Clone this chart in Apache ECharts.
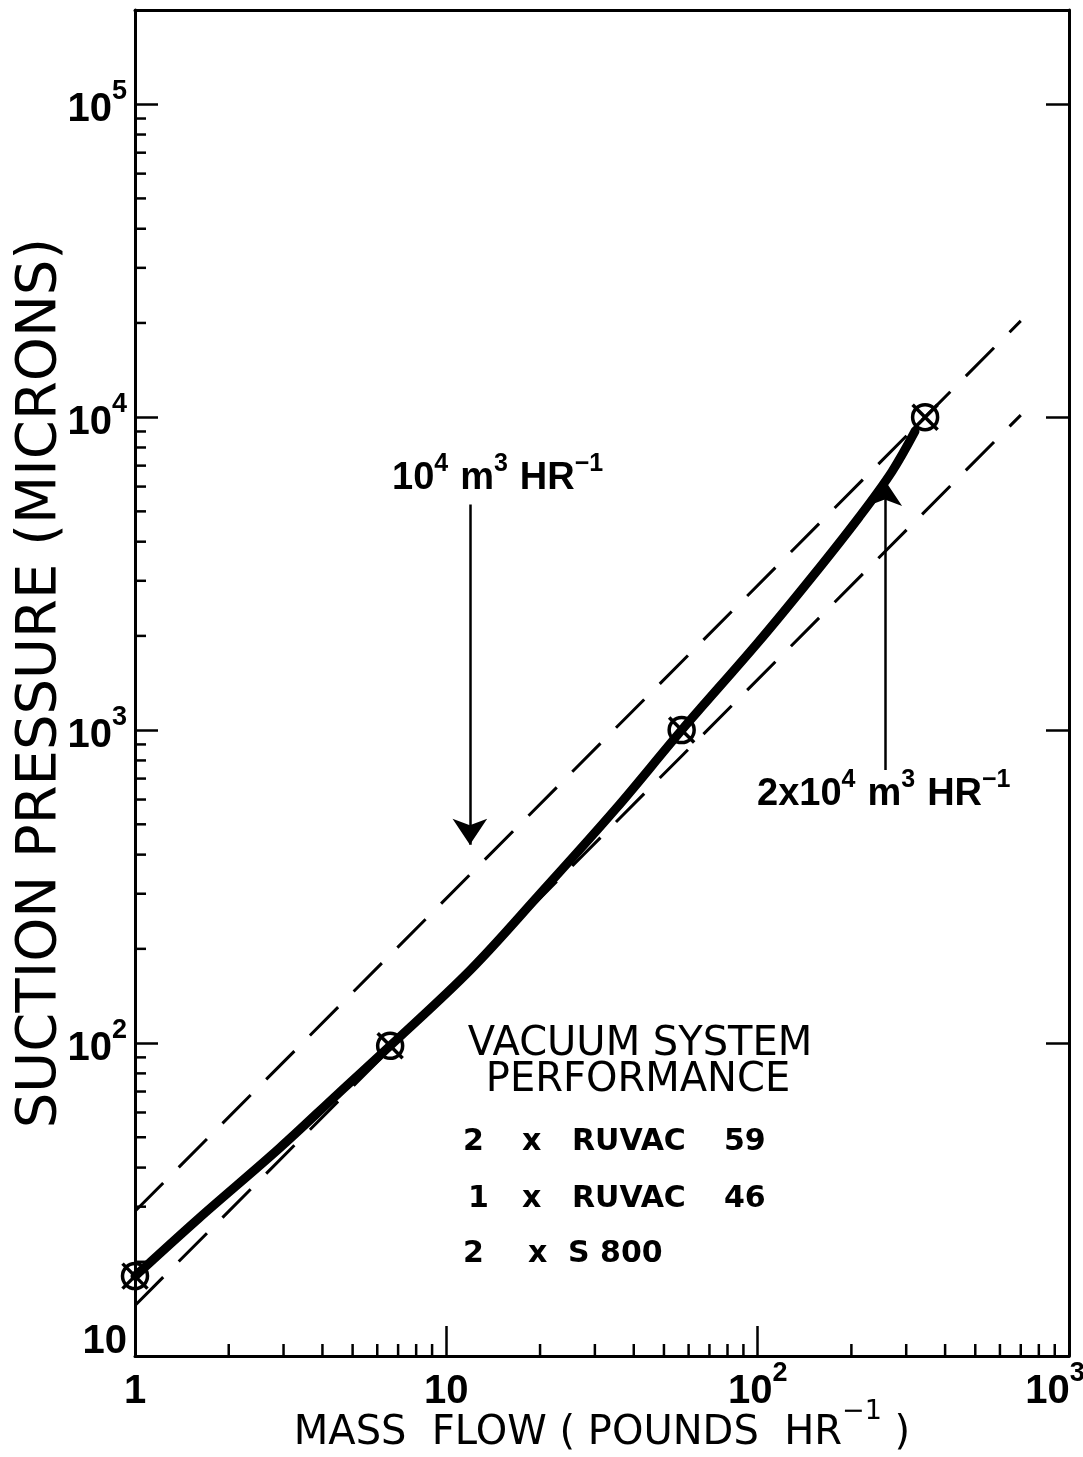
<!DOCTYPE html>
<html>
<head>
<meta charset="utf-8">
<script src="https://cdn.jsdelivr.net/npm/echarts@6/dist/echarts.min.js"></script>
<style>
html,body{margin:0;padding:0;background:#fff;}
#c{width:1083px;height:1457px;}
</style>
</head>
<body>
<div id="c"></div>
<script>
// ---- data ----
const curveX = [1, 1.6, 2.9, 4.5, 6.6, 12, 20, 35, 57, 100, 150, 212, 270, 320];
const curveY = [18, 27.5, 46, 69, 98, 172, 300, 560, 1000, 1900, 3100, 4800, 6700, 9000];
const pointX = [1, 6.6, 57, 345];
const pointY = [18, 98, 1000, 10000];
const line1X = [1, 700];          // 10^4 m^3 HR^-1
const line1Y = [29, 20300];
const line2X = [1, 700];          // 2x10^4 m^3 HR^-1
const line2Y = [14.5, 10150];
const arrow1 = [[11.9, 5260], [11.9, 430]];
const arrow2 = [[256, 745], [256, 6300]];
const minorMult = [2, 3, 4, 5, 6, 7, 8, 9];
const yDecades = [10, 100, 1000, 10000];
const xDecades = [1, 10, 100];
const xMin = 1, xMax = 1000, yMin = 10, yMax = 200000;

const zip = (a, b) => a.map((v, i) => [v, b[i]]);
const minorData = [];
yDecades.forEach(d => minorMult.forEach(m => minorData.push([xMin, d * m, 0])));
xDecades.forEach(d => minorMult.forEach(m => minorData.push([d * m, yMin, 1])));

const numFont = "'Liberation Sans Narrow', 'Liberation Sans', sans-serif";
const richLab = {
  b: {fontFamily: numFont, fontWeight: 'bold', fontSize: 40, lineHeight: 52, verticalAlign: 'bottom', color: '#000'},
  z: {fontFamily: numFont, fontWeight: 'bold', fontSize: 40, lineHeight: 52, verticalAlign: 'bottom', color: '#000', padding: [0, 0, 20, 0]},
  s: {fontFamily: numFont, fontWeight: 'bold', fontSize: 27, lineHeight: 20, verticalAlign: 'top', color: '#000'},
  e: {fontFamily: numFont, fontWeight: 'bold', fontSize: 27, lineHeight: 20, verticalAlign: 'top', color: '#000', padding: [0, 28, 0, 0]}
};
function decade(v) {
  const l = Math.log10(v);
  const e = Math.round(l);
  return Math.abs(l - e) > 0.01 ? null : e;
}
function xLabel(v) {
  const e = decade(v);
  if (e === null) return '';
  if (e === 0) return '{b|1}';
  if (e === 1) return '{b|10}';
  if (e === 3) return '{b|10}{e|3}';
  return '{b|10}{s|' + e + '}';
}
function yLabel(v) {
  const e = decade(v);
  if (e === null) return '';
  if (e === 1) return '{z|10}';
  return '{b|10}{s|' + e + '}';
}

const chart = echarts.init(document.getElementById('c'));
const axisLine = {show: true, lineStyle: {color: '#000', width: 3}};
const option = {
  backgroundColor: '#fff',
  animation: false,
  grid: {left: 135, right: 14, top: 10, bottom: 101, containLabel: false, outerBoundsMode: 'none'},
  xAxis: [{
    type: 'log', min: xMin, max: xMax, position: 'bottom',
    axisLine: axisLine,
    axisTick: {show: true, inside: true, length: 30, lineStyle: {color: '#000', width: 2.5}},
    axisLabel: {margin: 4, formatter: xLabel, rich: richLab},
    splitLine: {show: false}, minorTick: {show: false},
    name: '{b|MASS  FLOW ( POUNDS  HR}{s|−1}{b| )}', nameLocation: 'middle', nameGap: 42,
    nameMoveOverlap: false,
    nameTextStyle: {fontFamily: 'DejaVu Sans', fontSize: 40, color: '#000',
      rich: {
        b: {fontFamily: 'DejaVu Sans', fontSize: 40, lineHeight: 56, verticalAlign: 'bottom', color: '#000'},
        s: {fontFamily: 'DejaVu Sans', fontSize: 27, lineHeight: 18, verticalAlign: 'top', color: '#000'}
      }}
  }, {
    type: 'log', min: xMin, max: xMax, position: 'top',
    axisLine: axisLine, axisTick: {show: false}, axisLabel: {show: false}, splitLine: {show: false}
  }],
  yAxis: [{
    type: 'log', min: yMin, max: yMax, position: 'left',
    axisLine: axisLine,
    axisTick: {show: true, inside: true, length: 23, lineStyle: {color: '#000', width: 2.5}},
    axisLabel: {margin: 8, formatter: yLabel, rich: richLab},
    splitLine: {show: false},
    name: 'SUCTION PRESSURE (MICRONS)', nameLocation: 'middle', nameGap: 67, nameRotate: 90,
    nameMoveOverlap: false,
    nameTextStyle: {fontFamily: 'DejaVu Sans', fontSize: 56, color: '#000'}
  }, {
    type: 'log', min: yMin, max: yMax, position: 'right',
    axisLine: axisLine,
    axisTick: {show: true, inside: true, length: 23, lineStyle: {color: '#000', width: 2.5}},
    axisLabel: {show: false}, splitLine: {show: false}
  }],
  series: [
    {
      type: 'custom', xAxisIndex: 0, yAxisIndex: 0, silent: true, clip: false,
      data: minorData,
      renderItem: function (params, api) {
        const p = api.coord([api.value(0), api.value(1)]);
        const side = api.value(2);
        const q = side === 0 ? [p[0] + 11, p[1]] : [p[0], p[1] - 12];
        return {type: 'line', shape: {x1: p[0], y1: p[1], x2: q[0], y2: q[1]},
          style: {stroke: '#000', lineWidth: 2.5}};
      }
    },
    {
      name: '10^4 m3/hr', type: 'line', data: zip(line1X, line1Y), symbol: 'none',
      lineStyle: {color: '#000', width: 3, type: [40, 22]}
    },
    {
      name: '2x10^4 m3/hr', type: 'line', data: zip(line2X, line2Y), symbol: 'none',
      lineStyle: {color: '#000', width: 3, type: [40, 22]}
    },
    {
      name: 'performance', type: 'line', data: zip(curveX, curveY), symbol: 'none', smooth: 0.35,
      lineStyle: {color: '#000', width: 9, cap: 'round'}
    },
    {
      name: 'points', type: 'scatter', data: zip(pointX, pointY),
      symbol: 'path://M12 4 A8 8 0 1 1 11.99 4 Z M4 4 L20 20 M20 4 L4 20',
      symbolSize: 25,
      itemStyle: {color: 'none', borderColor: '#000', borderWidth: 3.5, opacity: 1}
    },
    {
      type: 'lines', coordinateSystem: 'cartesian2d', xAxisIndex: 0, yAxisIndex: 0,
      symbol: ['none', 'arrow'], symbolSize: [14, 26],
      lineStyle: {color: '#000', width: 2.5, opacity: 1},
      data: [{coords: arrow1}, {coords: arrow2}]
    }
  ],
  graphic: [
    {type: 'text', left: 392, top: 452, silent: true, style: {
      text: '{b|10}{s|4}{g| }{b|m}{s|3}{g| }{b|HR}{s|−1}',
      rich: {
        b: {fontFamily: numFont, fontWeight: 'bold', fontSize: 38, lineHeight: 46, verticalAlign: 'bottom', fill: '#000'},
        s: {fontFamily: numFont, fontWeight: 'bold', fontSize: 25, lineHeight: 18, verticalAlign: 'top', fill: '#000'},
        g: {fontSize: 38, width: 12}
      }}},
    {type: 'text', left: 757, top: 768, silent: true, style: {
      text: '{b|2x10}{s|4}{g| }{b|m}{s|3}{g| }{b|HR}{s|−1}',
      rich: {
        b: {fontFamily: numFont, fontWeight: 'bold', fontSize: 38, lineHeight: 46, verticalAlign: 'bottom', fill: '#000'},
        s: {fontFamily: numFont, fontWeight: 'bold', fontSize: 25, lineHeight: 18, verticalAlign: 'top', fill: '#000'},
        g: {fontSize: 38, width: 12}
      }}},
    {type: 'text', x: 640, y: 1045, silent: true, style: {text: 'VACUUM SYSTEM', align: 'center', verticalAlign: 'middle',
      fontFamily: 'DejaVu Sans', fontSize: 40, fill: '#000'}},
    {type: 'text', x: 638, y: 1081, silent: true, style: {text: 'PERFORMANCE', align: 'center', verticalAlign: 'middle',
      fontFamily: 'DejaVu Sans', fontSize: 40, fill: '#000'}},
    {type: 'text', x: 463, y: 1142, silent: true, style: {text: '2', verticalAlign: 'middle', fontFamily: 'DejaVu Sans', fontWeight: 'bold', fontSize: 30, fill: '#000'}},
    {type: 'text', x: 522, y: 1142, silent: true, style: {text: 'x', verticalAlign: 'middle', fontFamily: 'DejaVu Sans', fontWeight: 'bold', fontSize: 30, fill: '#000'}},
    {type: 'text', x: 572, y: 1142, silent: true, style: {text: 'RUVAC', verticalAlign: 'middle', fontFamily: 'DejaVu Sans', fontWeight: 'bold', fontSize: 30, fill: '#000'}},
    {type: 'text', x: 724, y: 1142, silent: true, style: {text: '59', verticalAlign: 'middle', fontFamily: 'DejaVu Sans', fontWeight: 'bold', fontSize: 30, fill: '#000'}},
    {type: 'text', x: 468, y: 1199, silent: true, style: {text: '1', verticalAlign: 'middle', fontFamily: 'DejaVu Sans', fontWeight: 'bold', fontSize: 30, fill: '#000'}},
    {type: 'text', x: 522, y: 1199, silent: true, style: {text: 'x', verticalAlign: 'middle', fontFamily: 'DejaVu Sans', fontWeight: 'bold', fontSize: 30, fill: '#000'}},
    {type: 'text', x: 572, y: 1199, silent: true, style: {text: 'RUVAC', verticalAlign: 'middle', fontFamily: 'DejaVu Sans', fontWeight: 'bold', fontSize: 30, fill: '#000'}},
    {type: 'text', x: 724, y: 1199, silent: true, style: {text: '46', verticalAlign: 'middle', fontFamily: 'DejaVu Sans', fontWeight: 'bold', fontSize: 30, fill: '#000'}},
    {type: 'text', x: 463, y: 1254, silent: true, style: {text: '2', verticalAlign: 'middle', fontFamily: 'DejaVu Sans', fontWeight: 'bold', fontSize: 30, fill: '#000'}},
    {type: 'text', x: 528, y: 1254, silent: true, style: {text: 'x', verticalAlign: 'middle', fontFamily: 'DejaVu Sans', fontWeight: 'bold', fontSize: 30, fill: '#000'}},
    {type: 'text', x: 568, y: 1254, silent: true, style: {text: 'S 800', verticalAlign: 'middle', fontFamily: 'DejaVu Sans', fontWeight: 'bold', fontSize: 30, fill: '#000'}}
  ]
};
chart.setOption(option);
</script>
</body>
</html>
